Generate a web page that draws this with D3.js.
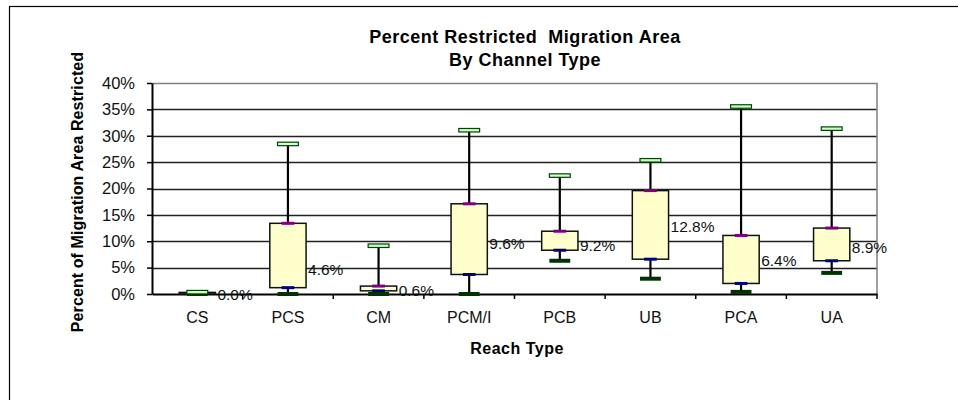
<!DOCTYPE html>
<html>
<head>
<meta charset="utf-8">
<script src="https://cdn.jsdelivr.net/npm/d3@7"></script>
<style>
  body { margin: 0; background: #fff; }
  svg text { font-family: Arial, "Liberation Sans", sans-serif; }
</style>
</head>
<body>
<div id="chart"></div>
<script>
// reach types and box stats (percent)
const categories = ["CS", "PCS", "CM", "PCM/I", "PCB", "UB", "PCA", "UA"]
const maxVals = [0.3, 28.4, 9.1, 31.0, 22.4, 25.3, 35.5, 31.3]
const q3Vals = [0.3, 13.4, 1.5, 17.1, 11.9, 19.6, 11.1, 12.5]
const q1Vals = [0.0, 1.2, 0.6, 3.7, 8.3, 6.6, 2.0, 6.3]
const minVals = [0.0, 0.0, 0.0, 0.0, 6.3, 2.9, 0.4, 4.0]
const medianVals = [0.0, 4.6, 0.6, 9.6, 9.2, 12.8, 6.4, 8.9]
const yTicks = [0, 5, 10, 15, 20, 25, 30, 35, 40]

const width = 958, height = 400
const margin = {left: 152, right: 81, top: 83, bottom: 106}

const svg = d3.select("#chart").append("svg")
    .attr("width", width)
    .attr("height", height)

// outer chart frame (runs off the bottom/right of the window)
svg.append("rect")
    .attr("x", 9.5).attr("y", 6.5)
    .attr("width", 960).attr("height", 420)
    .attr("fill", "#fff").attr("stroke", "#000").attr("stroke-width", 1.2)

const x = d3.scaleBand()
    .domain(categories)
    .range([margin.left, width - margin.right])

const y = d3.scaleLinear()
    .domain([0, 40])
    .range([height - margin.bottom, margin.top])

const bw = x.bandwidth()

// gridlines
svg.append("g")
    .selectAll("line")
    .data(yTicks.slice(1, -1))
    .enter()
    .append("line")
    .attr("x1", margin.left).attr("x2", width - margin.right)
    .attr("y1", d => Math.round(y(d)) + 0.5).attr("y2", d => Math.round(y(d)) + 0.5)
    .attr("stroke", "#222").attr("stroke-width", 1.3)

// top & right border of plot area
svg.append("path")
    .attr("d", "M" + margin.left + "," + (Math.round(y(40)) + 0.5) + "H" + (width - margin.right) + "V" + y(0))
    .attr("fill", "none").attr("stroke", "#808080").attr("stroke-width", 1.5)

// y axis
const yAxis = d3.axisLeft(y).tickValues(yTicks).tickFormat(d => d + "%").tickSize(5).tickSizeOuter(0)
const gy = svg.append("g").attr("transform", "translate(" + margin.left + ",0)").call(yAxis)
gy.select(".domain").attr("stroke", "#000").attr("stroke-width", 2)
gy.selectAll(".tick line").attr("stroke", "#000").attr("stroke-width", 1.5)
gy.selectAll(".tick text").attr("font-size", 16.5).attr("fill", "#111").attr("x", -17)

// x axis with ticks at band boundaries
const gx = svg.append("g").attr("transform", "translate(0," + y(0) + ")")
    .call(d3.axisBottom(x).tickSize(0).tickSizeOuter(0))
gx.select(".domain").attr("stroke", "#000").attr("stroke-width", 2.2)
gx.selectAll(".tick text").attr("font-size", 16).attr("fill", "#111").attr("dy", "1.65em")
gx.append("g").selectAll("line")
    .data(categories.slice(1).concat(["end"]))
    .enter()
    .append("line")
    .attr("x1", (d, i) => i < categories.length - 1 ? x(d) : x(categories[categories.length - 1]) + bw)
    .attr("x2", (d, i) => i < categories.length - 1 ? x(d) : x(categories[categories.length - 1]) + bw)
    .attr("y1", 0).attr("y2", 5)
    .attr("stroke", "#000").attr("stroke-width", 1.5)

// boxes
const idx = d3.range(categories.length)
const cx = i => x(categories[i]) + bw / 2
const boxW = bw * 0.4
const capW = bw * 0.23
const qW = bw * 0.14

const g = svg.append("g")

g.selectAll(".whisker")
    .data(idx)
    .enter()
    .append("line")
    .attr("class", "whisker")
    .attr("x1", cx).attr("x2", cx)
    .attr("y1", i => y(maxVals[i])).attr("y2", i => y(minVals[i]))
    .attr("stroke", "#000").attr("stroke-width", 2.2)

g.selectAll(".box")
    .data(idx)
    .enter()
    .append("rect")
    .attr("class", "box")
    .attr("x", i => cx(i) - boxW / 2)
    .attr("y", i => y(q3Vals[i]))
    .attr("width", boxW)
    .attr("height", i => Math.max(1, y(q1Vals[i]) - y(q3Vals[i])))
    .attr("fill", "#ffffcc").attr("stroke", "#111").attr("stroke-width", 1.5)

// Q3 (purple) and Q1 (blue) markers
g.selectAll(".q3")
    .data(idx)
    .enter()
    .append("rect")
    .attr("x", i => cx(i) - qW / 2)
    .attr("y", i => y(q3Vals[i]) - 1.5)
    .attr("width", qW).attr("height", 3)
    .attr("fill", "#800080")

g.selectAll(".q1")
    .data(idx)
    .enter()
    .append("rect")
    .attr("x", i => cx(i) - qW / 2)
    .attr("y", i => y(q1Vals[i]) - 1.5)
    .attr("width", qW).attr("height", 3)
    .attr("fill", "#000080")

// min marker (filled dark green)
g.selectAll(".minmark")
    .data(idx)
    .enter()
    .append("rect")
    .attr("x", i => cx(i) - capW / 2)
    .attr("y", i => y(minVals[i]) - 2)
    .attr("width", capW).attr("height", 4)
    .attr("fill", "#003300")

// max marker (hollow green)
g.selectAll(".maxmark")
    .data(idx)
    .enter()
    .append("rect")
    .attr("x", i => cx(i) - capW / 2)
    .attr("y", i => y(maxVals[i]) - 2)
    .attr("width", capW).attr("height", 3.5)
    .attr("fill", "#ccffcc").attr("stroke", "#004400").attr("stroke-width", 1.2)

// median labels
g.selectAll(".medlabel")
    .data(idx)
    .enter()
    .append("text")
    .attr("x", i => cx(i) + boxW / 2 + 2)
    .attr("y", i => y(medianVals[i]))
    .attr("dy", "0.36em")
    .attr("font-size", 15.5)
    .attr("fill", "#111")
    .text(i => medianVals[i].toFixed(1) + "%")

// titles
svg.append("text")
    .attr("x", 525).attr("y", 43)
    .attr("text-anchor", "middle")
    .attr("font-size", 18).attr("font-weight", "bold")
    .attr("letter-spacing", 0.5)
    .style("white-space", "pre")
    .text("Percent Restricted  Migration Area")
svg.append("text")
    .attr("x", 525).attr("y", 65.5)
    .attr("text-anchor", "middle")
    .attr("font-size", 18).attr("font-weight", "bold")
    .attr("letter-spacing", 0.5)
    .text("By Channel Type")

svg.append("text")
    .attr("transform", "translate(83,192) rotate(-90)")
    .attr("text-anchor", "middle")
    .attr("font-size", 16).attr("font-weight", "bold")
    .attr("letter-spacing", 0.1)
    .text("Percent of Migration Area Restricted")

svg.append("text")
    .attr("x", 517).attr("y", 354)
    .attr("text-anchor", "middle")
    .attr("font-size", 16).attr("font-weight", "bold")
    .attr("letter-spacing", 0.5)
    .text("Reach Type")
</script>
</body>
</html>
